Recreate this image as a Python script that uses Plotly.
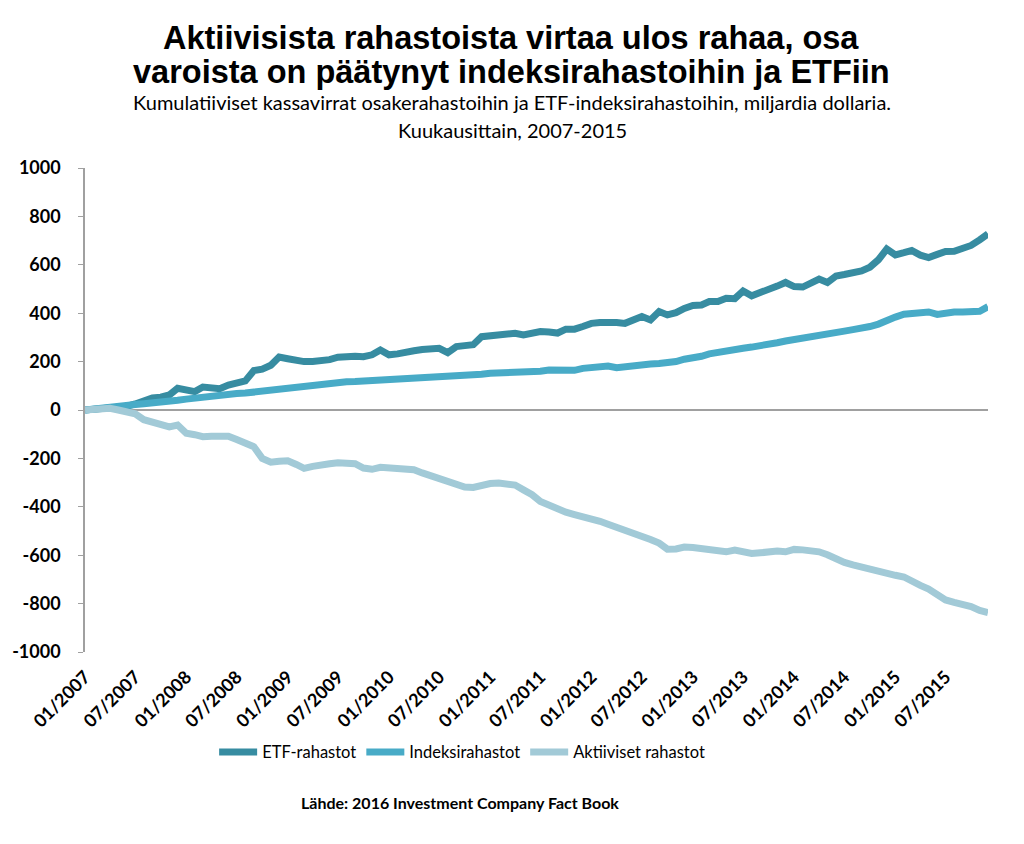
import plotly.graph_objects as go
import pandas as pd

months = pd.date_range("2007-01-01", periods=108, freq="MS")

etf = [0, 3, 6, 9, 12, 15, 25, 40, 50, 53, 62, 90,
       82, 76, 95, 88, 88, 103, 112, 120, 163, 169, 185, 219,
       212, 205, 200, 200, 202, 208, 218, 222, 222, 220, 228, 248,
       228, 232, 241, 245, 250, 253, 255, 237, 262, 266, 270, 303,
       308, 313, 315, 317, 310, 316, 324, 322, 318, 334, 334, 345,
       358, 362, 365, 362, 358, 374, 386, 372, 407, 393, 402, 420,
       432, 434, 448, 448, 462, 460, 492, 472, 488, 503, 512, 527,
       510, 508, 525, 541, 527, 554, 560, 565, 575, 590, 621, 665,
       641, 650, 659, 640, 630, 643, 655, 656, 665, 680, 703, 728]

index_funds = [0, 5, 9, 12, 15, 20, 23, 26, 28, 33, 35, 40,
               45, 50, 55, 58, 62, 66, 68, 70, 74, 78, 85, 92,
               96, 98, 103, 107, 110, 114, 116, 117, 118, 120, 122, 124,
               126, 127, 128, 131, 133, 134, 136, 137, 137, 138, 140, 148,
               152, 153, 158, 159, 157, 155, 160, 165, 163, 160, 164, 172,
               176, 178, 182, 175, 180, 184, 188, 190, 192, 195, 200, 210,
               214, 222, 232, 236, 241, 248, 255, 260, 264, 270, 278, 285,
               290, 298, 305, 310, 315, 320, 326, 332, 336, 345, 355, 372,
               384, 396, 400, 400, 405, 395, 402, 405, 405, 405, 408, 427]

active = [0, 3, 6, 7, 0, -10, -16, -40, -50, -56, -70, -62,
          -96, -102, -110, -108, -107, -108, -122, -135, -152, -200, -216, -212,
          -210, -225, -241, -233, -225, -222, -218, -221, -222, -240, -245, -237,
          -240, -248, -245, -247, -260, -272, -285, -297, -308, -318, -320, -310,
          -304, -302, -303, -310, -330, -350, -378, -395, -408, -422, -432, -440,
          -448, -460, -472, -485, -495, -503, -520, -535, -550, -575, -574, -566,
          -568, -573, -580, -586, -586, -579, -585, -593, -590, -584, -583, -586,
          -576, -578, -582, -586, -598, -618, -630, -640, -650, -658, -665, -675,
          -683, -690, -710, -725, -740, -762, -785, -795, -803, -812, -828, -837]

series_names = ["ETF-rahastot", "Indeksirahastot", "Aktiiviset rahastot"]
colors = ["#378CA1", "#48ABC7", "#A2CAD7"]

y_ticks = list(range(-1000, 1001, 200))
y_ticktext = [str(v) for v in y_ticks]
x_ticks = months[::6]
x_ticktext = [d.strftime("%m/%Y") for d in x_ticks]

fig = go.Figure()
for name, vals, col in zip(series_names, [etf, index_funds, active], colors):
    fig.add_trace(go.Scatter(x=months, y=vals, mode="lines", name=name,
                             line=dict(color=col, width=7, shape="linear")))

FONT = "Lato"
fig.update_layout(
    width=1024, height=844,
    margin=dict(l=77, r=44, t=160, b=200),
    paper_bgcolor="white", plot_bgcolor="white",
    showlegend=True,
    legend=dict(orientation="h", x=0.143, xanchor="left", y=-0.207, yanchor="middle",
                font=dict(family=FONT, size=16.5, color="#000000"),
                itemwidth=38, traceorder="normal", tracegroupgap=0),
    font=dict(family=FONT, color="#000000"),
)
fig.update_xaxes(
    range=[months[0], months[-1]],
    tickvals=list(x_ticks), ticktext=x_ticktext, tickangle=-45,
    tickfont=dict(family=FONT, size=18, color="#000000", weight="bold"),
    ticklabelstandoff=10, automargin=False,
    showgrid=False, showline=False, zeroline=False, ticks="",
)
fig.update_yaxes(
    range=[-1000, 1000], tickvals=y_ticks, ticktext=y_ticktext,
    tickfont=dict(family=FONT, size=18, color="#000000", weight="bold"),
    ticklabelstandoff=14, automargin=False,
    showgrid=False, showline=True, linecolor="#A0A0A0", linewidth=1.5,
    ticks="outside", ticklen=5, tickcolor="#A0A0A0",
    zeroline=True, zerolinecolor="#A0A0A0", zerolinewidth=1.5,
)

anns = [
    ("Aktiivisista rahastoista virtaa ulos rahaa, osa", 1.2686, 0.472, "Liberation Sans", 32.5, "bold"),
    ("varoista on päätynyt indeksirahastoihin ja ETFiin", 1.1983, 0.472, "Liberation Sans", 32.5, "bold"),
    ("Kumulatiiviset kassavirrat osakerahastoihin ja ETF-indeksirahastoihin, miljardia dollaria.", 1.1364, 0.473, FONT, 20, "normal"),
    ("Kuukausittain, 2007-2015", 1.0785, 0.473, FONT, 20, "normal"),
    ("Lähde: 2016 Investment Company Fact Book", -0.31, 0.415, FONT, 16, "bold"),
]
for text, y, x, fam, size, wt in anns:
    fig.add_annotation(text=text, x=x, xref="paper", y=y, yref="paper",
                       showarrow=False, xanchor="center", yanchor="middle",
                       font=dict(family=fam, size=size, color="#000000", weight=wt))

fig.write_html("out.html")
